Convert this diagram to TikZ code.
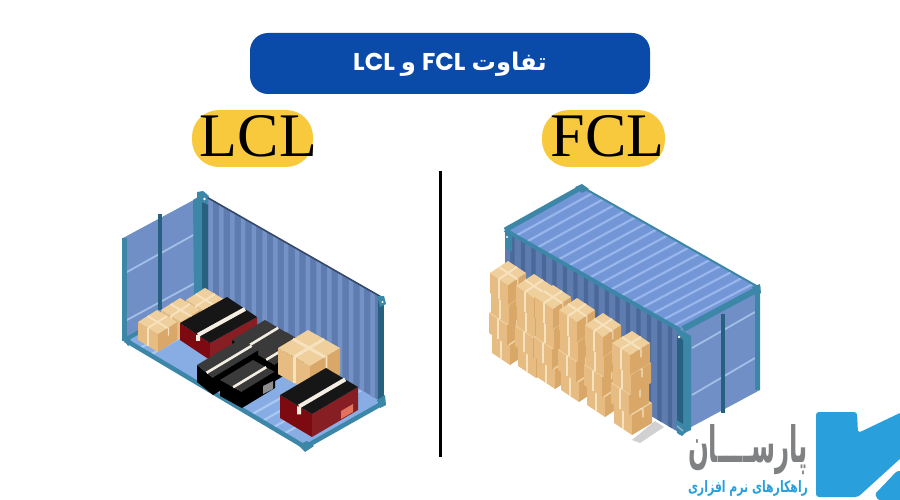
\documentclass[tikz,border=0pt]{standalone}
\usepackage{fontspec}
\usepackage{graphicx}
\usetikzlibrary{calc}
\TeXXeTstate=1
\setmainfont{Liberation Serif}
\newfontfamily\arabicfont[Script=Arabic]{DejaVu Sans}
\newfontfamily\latinhead{Poppins}
\definecolor{pillblue}{HTML}{0A4AA8}
\definecolor{pillyellow}{HTML}{F8C93C}
\definecolor{teal}{HTML}{3C86A8}
\definecolor{tealdark}{HTML}{28607F}
\definecolor{endwall}{HTML}{6F8FC6}
\definecolor{endline}{HTML}{A3BFE8}
\definecolor{sidewall}{HTML}{5F7CB0}
\definecolor{sidelight}{HTML}{7492C6}
\definecolor{sidedark}{HTML}{4A6898}
\definecolor{roof}{HTML}{7396D6}
\definecolor{rooflight}{HTML}{98B6EC}
\definecolor{floorblue}{HTML}{88ADE4}
\definecolor{floorlight}{HTML}{A9C8F2}
\definecolor{cardtop}{HTML}{EFCF9B}
\definecolor{cardleft}{HTML}{E6BC82}
\definecolor{cardright}{HTML}{D9A767}
\definecolor{cardstrap}{HTML}{F6E2BE}
\definecolor{tapewhite}{HTML}{F4EEE2}
\definecolor{cartonred}{HTML}{7C0A10}
\definecolor{cartontop}{HTML}{161616}
\definecolor{graytop}{HTML}{3A3A3A}
\definecolor{logoblue}{HTML}{29A0DC}
\definecolor{logogray}{HTML}{808182}
\newcommand{\isocoords}[7]{%
  \coordinate (B) at (#1,#2);
  \coordinate (L) at (#1+#3,#2+#4);
  \coordinate (R) at (#1+#5,#2+#6);
  \coordinate (T) at (#1,#2-#7);
  \coordinate (TL) at (#1+#3,#2+#4-#7);
  \coordinate (TR) at (#1+#5,#2+#6-#7);
  \coordinate (A) at (#1+#3+#5,#2+#4+#6-#7);
}
% cardboard carton: x y ax ay bx by h
\newcommand{\cardbox}[8][1.3]{%
  \isocoords{#2}{#3}{#4}{#5}{#6}{#7}{#8}
  \fill[cardleft] (B)--(L)--(TL)--(T)--cycle;
  \fill[cardright] (B)--(R)--(TR)--(T)--cycle;
  \fill[cardtop] (T)--(TL)--(A)--(TR)--cycle;
  \draw[cardstrap,line width=#1*1.5pt] ($(T)!.5!(TL)$)--($(TR)!.5!(A)$);
  \draw[cardstrap,line width=#1*1.5pt] ($(T)!.5!(TR)$)--($(TL)!.5!(A)$);
  \draw[cardstrap,line width=#1*1.5pt] ($(T)!.5!(TL)$)--($(B)!.5!(L)$);
  \draw[cardstrap,line width=#1*.9pt] ($(T)!.55!(TR)$)--($($(T)!.55!(TR)$)!.45!($(B)!.55!(R)$)$);
}
% a column of four cartons, top front corner given
\newcommand{\cardcol}[3][18]{%
  \cardbox{#2+2}{#3+80}{-18}{-12}{#1}{-12}{20}
  \cardbox{#2-1}{#3+60}{-18}{-12}{#1}{-12}{20}
  \cardbox{#2+1}{#3+40}{-18}{-12}{#1}{-12}{20}
  \cardbox{#2}{#3+20}{-18}{-12}{#1}{-12}{20}
}
% red carton
\newcommand{\redbox}[7]{%
  \isocoords{#1}{#2}{#3}{#4}{#5}{#6}{#7}
  \fill[cartonred] (B)--(L)--(TL)--(T)--cycle;
  \fill[cartonred!92!white] (B)--(R)--(TR)--(T)--cycle;
  \fill[cartontop] (T)--(TL)--(A)--(TR)--cycle;
  \draw[tapewhite,line width=4pt] ($(T)!.4!(TL)$)--($(TR)!.4!(A)$);
  \draw[tapewhite,line width=4pt] ($(T)!.4!(TL)$)--($($(T)!.4!(TL)$)!.35!($(B)!.4!(L)$)$);
}
% black carton
\newcommand{\blackbox}[7]{%
  \isocoords{#1}{#2}{#3}{#4}{#5}{#6}{#7}
  \fill[black] (B)--(L)--(TL)--(T)--cycle;
  \fill[black] (B)--(R)--(TR)--(T)--cycle;
  \fill[graytop] (T)--(TL)--(A)--(TR)--cycle;
  \draw[tapewhite,line width=2.6pt] ($(T)!.4!(TL)$)--($(TR)!.4!(A)$);
  \draw[black,line width=.8pt] (T)--(TR);
}
\begin{document}
\begin{tikzpicture}[x=1pt,y=-1pt]
\useasboundingbox (0,0) rectangle (900,500);
\fill[white] (0,0) rectangle (900,500);

% ---------- title ----------
\fill[pillblue,rounded corners=18pt] (250,33) rectangle (650,94);
\node[text=white,font=\fontsize{24.3}{28}\selectfont,inner sep=0pt] (title) at (450,64)
  {\beginR{\arabicfont\bfseries تفاوت} {\latinhead\bfseries\beginL FCL\endL} {\arabicfont\bfseries و} {\latinhead\bfseries\beginL LCL\endL}\endR};

% ---------- labels ----------
\fill[pillyellow,rounded corners=27pt] (192,110) rectangle (313,167);
\fill[pillyellow,rounded corners=27pt] (542,110) rectangle (665,167);
\node[font=\fontsize{62}{62}\selectfont,inner sep=0pt,text=black,anchor=base] (lcl) at (258.5,157) {LCL};
\node[font=\fontsize{62}{62}\selectfont,inner sep=0pt,text=black,anchor=base] (fcl) at (607.5,157) {FCL};

% ---------- divider ----------
\coordinate (divtop) at (440.5,171);
\coordinate (divbot) at (440.5,457);
\draw[black,line width=3.5pt] (divtop)--(divbot);

% ---------- LCL container ----------
\coordinate (a1) at (123,238);
\coordinate (a2) at (203,195);
\coordinate (a3) at (383,298);
\coordinate (a4) at (383,403);
\coordinate (a5) at (305,447);
\coordinate (a6) at (125,340);
\coordinate (a7) at (203,295);
\fill[floorblue] (a6)--(a7)--(a4)--(a5)--cycle;
\foreach \t in {.08,.14,.40,.46,.70,.76,.82,.88}{
  \draw[floorlight,line width=2.2pt] ($(a6)!\t!(a5)$)--($(a7)!\t!(a4)$);
}
\fill[endwall] (a1)--(a2)--(a7)--(a6)--cycle;
\draw[endline,line width=1.8pt] (127,272)--(197,233);
\draw[endline,line width=1.8pt] (127,320)--(197,282);
\draw[tealdark,line width=4pt] (160,214)--(160,310);
\fill[sidewall] (a2)--(a3)--(a4)--(a7)--cycle;
\foreach \t in {.03,.09,...,.97}{
  \pgfmathsetmacro{\u}{\t+.025}
  \fill[sidelight] ($(a2)!\t!(a3)$)--($(a2)!\u!(a3)$)--($(a7)!\u!(a4)$)--($(a7)!\t!(a4)$)--cycle;
}
\draw[sidedark!70!black,line width=1.6pt] (a2)--(a3);
\draw[tealdark,line width=6pt] (380.5,299)--(380.5,402);
\fill[teal] (193,200)--(203,194)--(207,197)--(207,292)--(194,296)--cycle;
\fill[tealdark] (202,202)--(208,205)--(208,290)--(202,288)--cycle;
\draw[teal,line width=5pt] (124.5,238)--(124.5,341);
\draw[teal,line width=4pt] (a6)--(a7);
\draw[teal,line width=4.5pt] (a6)--(a5)--(a4);
\fill[teal] (197,192)--(203,191)--(209,196)--(203,203)--(197,199)--cycle;
\fill[white] (204.5,199) circle (1.3pt);
\fill[teal] (377,296)--(384,296)--(386,304)--(380,307)--cycle;
\fill[white] (382.5,302) circle (1.2pt);
\fill[teal] (298,445)--(307,441)--(314,446)--(305,452)--cycle;
\fill[teal] (123,338)--(127,335)--(132,342)--(128,346)--cycle;
\fill[teal] (377,400)--(385,395)--(386,405)--(380,408)--cycle;

% tan small cartons
\cardbox[1.3]{206}{330}{-20}{-12}{19}{-12}{18}
\cardbox[1.3]{181}{340}{-20}{-12}{19}{-12}{18}
\cardbox[1.3]{158}{352}{-20}{-12}{19}{-12}{18}
% red carton at back
\redbox{210}{360}{-30}{-20}{47}{-26}{17}
% black cartons
\blackbox{254}{369}{-22}{-13}{33}{-20}{16}
\blackbox{275}{381}{-22}{-13}{33}{-20}{16}
\blackbox{213}{395}{-16}{-13}{45}{-27}{17}
\blackbox{242}{408}{-22}{-12}{33}{-20}{16}
\fill[black!45] (263,386)--(273,381)--(273,389)--(263,394)--cycle;
% big tan carton
\cardbox[2]{310}{392}{-32}{-18}{30}{-18}{26}
% front red carton
\redbox{312}{437}{-32}{-19}{46}{-27}{23}
\fill[red!60!orange!55!white,opacity=.75] (341,411)--(353,404)--(353,412)--(341,419)--cycle;

% ---------- FCL container ----------
\coordinate (b1) at (505,230);
\coordinate (b2) at (582,187);
\coordinate (b3) at (760,288);
\coordinate (b4) at (680,330);
\coordinate (b5) at (680,433);
\coordinate (b6) at (760,390);
\coordinate (b7) at (505,330);
\fill[sidewall] (b1)--(b4)--(b5)--(b7)--cycle;
\foreach \t in {.03,.09,...,.97}{
  \pgfmathsetmacro{\u}{\t+.025}
  \fill[sidedark] ($(b1)!\t!(b4)$)--($(b1)!\u!(b4)$)--($(b7)!\u!(b5)$)--($(b7)!\t!(b5)$)--cycle;
}
\fill[roof] (b1)--(b2)--(b3)--(b4)--cycle;
\foreach \t in {.06,.12,...,.96}{
  \draw[rooflight,line width=2.2pt] ($(b1)!\t!(b4)$)--($(b2)!\t!(b3)$);
}
\fill[endwall] (b4)--(b3)--(b6)--(b5)--cycle;
\draw[endline,line width=1.8pt] (692,348)--(755,312);
\draw[endline,line width=1.8pt] (692,395)--(755,358);
\draw[tealdark,line width=4pt] (723,314)--(723,413);
\draw[teal,line width=2pt] (b2)--(b3);
\draw[teal,line width=4pt] (b1)--(b4);
\draw[teal,line width=5pt] (b1)--(b2);
\draw[teal,line width=6pt] (683,329)--(758,289);
\draw[teal,line width=5pt] (757.5,288)--(757.5,390);
\fill[teal] (677,328)--(691,336)--(691,430)--(680,435)--(677,432)--cycle;
\fill[tealdark] (677,335)--(683,340)--(683,425)--(677,420)--cycle;
\fill[teal] (505,228)--(512,232)--(512,252)--(505,248)--cycle;
\fill[teal] (575,187)--(582,184)--(589,189)--(582,193)--cycle;
\fill[teal] (752,287)--(760,284)--(761,293)--(755,296)--cycle;
\fill[teal] (676,420)--(690,428)--(682,436)--(677,433)--cycle;
\fill[white] (679,337) circle (1.3pt);
\fill[white] (507,237) circle (1.2pt);
\draw[teal!60!white,line width=1.5pt] (677,426)--(683,431);
\fill[black!18] (632,440)--(655,421)--(664,427)--(640,443)--cycle;

% cartons stacked in columns
\cardcol{508}{285}
\cardcol{534}{298}
\cardcol{553}{309}
\cardcol{577}{322}
\cardcol{603}{337}
\cardcol[20]{630}{355}

% ---------- logo ----------
\fill[logoblue,rounded corners=3pt] (816,412)--(857,412)--(858,433)--(902,412)--(902,457)--(858,497)--(816,497)--cycle;
\fill[logoblue,rounded corners=1.5pt] (875,494)--(897,471)--(902,471)--(902,500)--(878,500)--cycle;
\node[inner sep=0pt,text=logogray] (logoname) at (748,450)
  {\resizebox{120pt}{38pt}{\arabicfont\bfseries\beginR پارســــان\endR}};
\node[inner sep=0pt,text=logoblue] (logotag) at (748,488)
  {\resizebox{120pt}{12pt}{\arabicfont\bfseries\beginR راهکارهای نرم افزاری\endR}};
\end{tikzpicture}
\end{document}
